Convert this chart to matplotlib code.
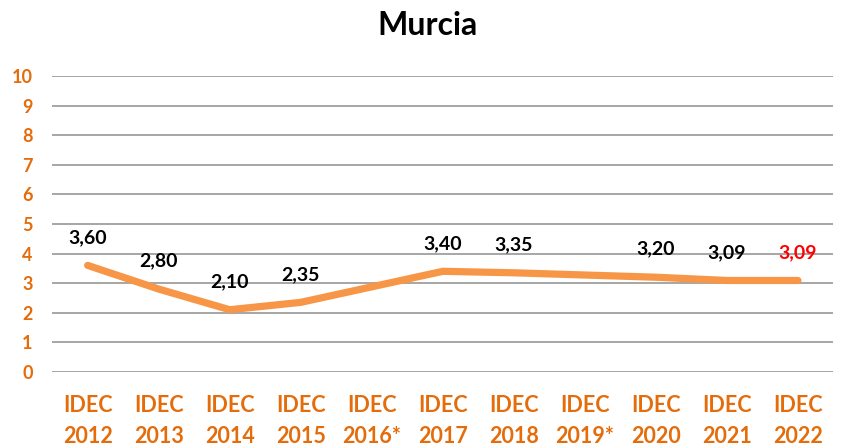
import matplotlib
matplotlib.use("Agg")
import matplotlib.pyplot as plt

# ---------------------------- data -------------------------------------------
categories = ["IDEC\n2012", "IDEC\n2013", "IDEC\n2014", "IDEC\n2015", "IDEC\n2016*",
              "IDEC\n2017", "IDEC\n2018", "IDEC\n2019*", "IDEC\n2020", "IDEC\n2021",
              "IDEC\n2022"]
values = [3.60, 2.80, 2.10, 2.35, None, 3.40, 3.35, None, 3.20, 3.09, 3.09]
label_colors = ["black"] * 10 + ["#FF0000"]
y_ticks = list(range(0, 11))

ORANGE_LINE = "#F79646"
ORANGE_TEXT = "#E46C0A"

plt.rcParams["font.family"] = ["Lato", "DejaVu Sans"]
plt.rcParams["font.weight"] = "bold"

fig = plt.figure(figsize=(8.41, 4.48), dpi=100)
ax = fig.add_axes([0.062, 0.170, 0.929, 0.660])

# missing years are skipped, the line joins the known points
xs = [i for i, v in enumerate(values) if v is not None]
ys = [v for v in values if v is not None]
ax.plot(xs, ys, color=ORANGE_LINE, lw=5.2, solid_capstyle="round", zorder=3)

for x, y in zip(xs, ys):
    ax.annotate(f"{y:.2f}".replace(".", ","), (x, y), xytext=(0, 28),
                textcoords="offset pixels", ha="center", va="center",
                fontsize=14, fontweight="bold", color=label_colors[x], zorder=4)

ax.set_xlim(-0.5, len(categories) - 0.5)
ax.set_ylim(0, 10)
ax.set_yticks(y_ticks)
ax.set_xticks(range(len(categories)))
ax.set_xticklabels(categories, linespacing=1.55)
ax.yaxis.grid(True, color="#A6A6A6", lw=1.4)
ax.set_axisbelow(True)
for s in ax.spines.values():
    s.set_visible(False)
ax.tick_params(axis="both", length=0, colors=ORANGE_TEXT)
ax.tick_params(axis="x", labelsize=15.5, pad=17)
ax.tick_params(axis="y", labelsize=13, pad=14)
for lab in ax.get_xticklabels() + ax.get_yticklabels():
    lab.set_fontweight("bold")

fig.suptitle("Murcia", x=0.508, y=0.975, fontsize=23, fontweight="bold")

fig.savefig("out.png", dpi=100)
